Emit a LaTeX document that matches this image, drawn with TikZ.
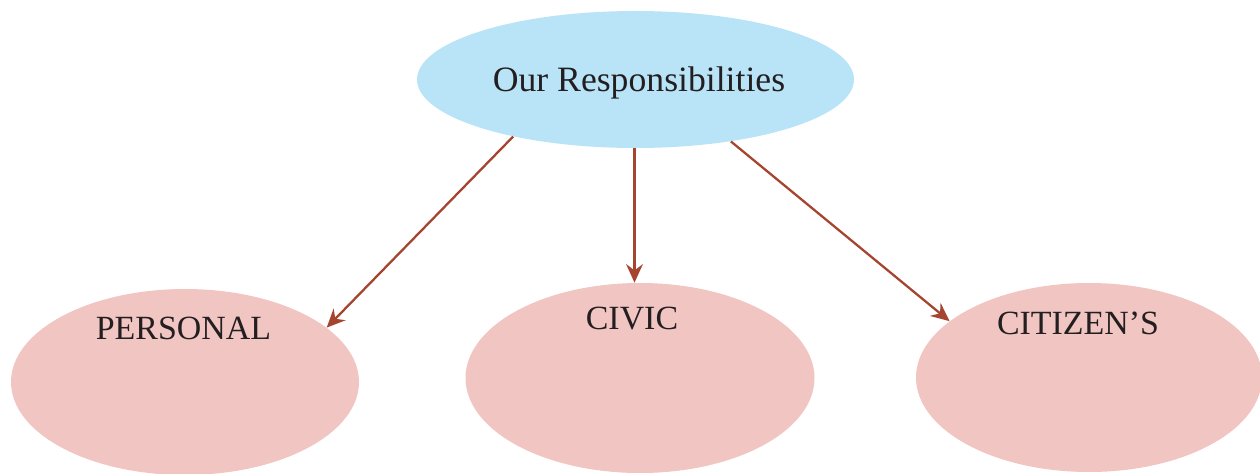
\documentclass[tikz,border=0pt]{standalone}
\usepackage{fontspec}
\setmainfont{Liberation Serif}
\usepackage{tikz}
\usetikzlibrary{arrows.meta,shapes.geometric}
\definecolor{rootblue}{HTML}{B9E4F8}
\definecolor{leafpink}{HTML}{F1C5C2}
\definecolor{arrowbrown}{HTML}{A6452F}
\definecolor{inkgrey}{HTML}{231F20}
\tikzset{
  rootellipse/.style={ellipse,fill=rootblue,draw=none,inner sep=0pt},
  leafellipse/.style={ellipse,fill=leafpink,draw=none,inner sep=0pt},
  rolelabel/.style={anchor=base,inner sep=0pt,text=inkgrey,font=\fontsize{19.3}{23}\selectfont},
  rolearrow/.style={->,>={Stealth[length=10.5pt,width=9.5pt,inset=3.5pt]},arrowbrown,line width=1.3pt}
}
\begin{document}
\begin{tikzpicture}
        \useasboundingbox (0,0) rectangle (25.2,9.46);
        % Ellipses
        \node[rootellipse,minimum width=8.74cm,minimum height=2.74cm](top)at(12.71,7.87){};
        \node[leafellipse,minimum width=6.96cm,minimum height=3.72cm](personal)at(3.70,1.82){};
        \node[leafellipse,minimum width=6.98cm,minimum height=3.80cm](civic)at(12.80,1.90){};
        \node[leafellipse,minimum width=6.92cm,minimum height=3.78cm](citizen)at(21.78,1.91){};
        % Labels
        \node[rolelabel,font=\fontsize{20.3}{24}\selectfont](toptext)at(12.78,7.63){Our Responsibilities};
        \node[rolelabel](personaltext)at(3.67,2.68){PERSONAL};
        \node[rolelabel](civictext)at(12.64,2.88){CIVIC};
        \node[rolelabel](citizentext)at(21.56,2.78){CITIZEN’S};
        % Arrows
        \draw[rolearrow](top.205.9)--(personal.21.4);
        \draw[rolearrow]([xshift=-0.02cm]top.south)--([xshift=-0.02cm]top.south |- civic.north);
        \draw[rolearrow](top.327.5)--(citizen.158.8);
\end{tikzpicture}
\end{document}
